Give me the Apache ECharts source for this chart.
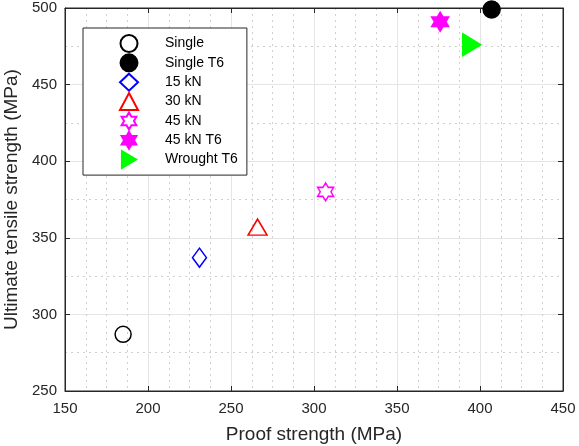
<!DOCTYPE html>
<html><head><meta charset="utf-8">
<script src="https://cdn.jsdelivr.net/npm/echarts@6/dist/echarts.min.js"></script>
<style>html,body{margin:0;padding:0;background:#fff}#c{width:579px;height:446px}</style>
</head><body><div id="c"></div>
<script>
const seriesNames = ['Single','Single T6','15 kN','30 kN','45 kN','45 kN T6','Wrought T6'];
const proofStrength = [185, 407, 231, 266, 307, 376, 395];
const ultimateStrength = [287, 499, 337, 357, 380, 491, 476];
const xTicks = [150,200,250,300,350,400,450];
const yTicks = [250,300,350,400,450,500];

const hex = 'path://M100 0 L128.87 50 L186.6 50 L157.7 100 L186.6 150 L128.87 150 L100 200 L71.13 150 L13.4 150 L42.3 100 L13.4 50 L71.13 50 Z';
const rightTri = 'path://M0 0 L100 60 L0 120 Z';
const styles = [
  {symbol:'circle', size:16, fill:'rgba(0,0,0,0)', stroke:'#000'},
  {symbol:'circle', size:17, fill:'#000', stroke:'#000'},
  {symbol:'diamond', size:[14,19], fill:'rgba(0,0,0,0)', stroke:'#0000ff'},
  {symbol:'triangle', size:[19,16], fill:'rgba(0,0,0,0)', stroke:'#ff0000'},
  {symbol:hex, size:[16,18], fill:'rgba(0,0,0,0)', stroke:'#ff00ff'},
  {symbol:hex, size:[17,19], fill:'#ff00ff', stroke:'#ff00ff'},
  {symbol:rightTri, size:[18,22], fill:'#00ff00', stroke:'#00ff00'}
];
const font = 'Liberation Sans';
const series = seriesNames.map((n,i)=>({
  name:n, type:'scatter',
  data:[[proofStrength[i], ultimateStrength[i]]],
  symbol:styles[i].symbol, symbolSize:styles[i].size,
  itemStyle:{color:styles[i].fill, borderColor:styles[i].stroke, borderWidth:1.5, opacity:1},
  emphasis:{disabled:true}, z:5
}));
const axisCommon = {
  axisLine:{show:true, onZero:false, lineStyle:{color:'#262626', width:1}},
  axisTick:{show:true, inside:true, length:5, lineStyle:{color:'#262626'}},
  splitLine:{show:true, lineStyle:{color:'#e5e5e5', width:1}},
  minorSplitLine:{show:true, lineStyle:{color:'#d0d0d0', width:1, type:[2,4]}},
  axisLabel:{color:'#262626', fontFamily:font, fontSize:15},
  nameTextStyle:{color:'#262626', fontFamily:font, fontSize:19}
};
const chart = echarts.init(document.getElementById('c'), null, {renderer:'canvas'});
chart.setOption({
  animation:false,
  backgroundColor:'#fff',
  grid:{left:65, right:16, top:8, bottom:55, outerBoundsMode:'none', containLabel:false,
    show:true, borderColor:'#262626', borderWidth:1, backgroundColor:'transparent'},
  xAxis:[
    Object.assign({}, axisCommon, {type:'value', min:xTicks[0], max:xTicks[xTicks.length-1], interval:50,
      minorTick:{show:false, splitNumber:4},
      name:'Proof strength (MPa)', nameLocation:'middle', nameGap:34,
      axisLabel:Object.assign({}, axisCommon.axisLabel, {margin:10})}),
    {type:'value', position:'top', min:150, max:450, interval:50,
      axisLine:{show:true, lineStyle:{color:'#262626'}}, axisTick:{show:true, inside:true, length:5, lineStyle:{color:'#262626'}},
      axisLabel:{show:false}, splitLine:{show:false}}
  ],
  yAxis:[
    Object.assign({}, axisCommon, {type:'value', min:yTicks[0], max:yTicks[yTicks.length-1], interval:50,
      minorTick:{show:false, splitNumber:2},
      name:'Ultimate tensile strength (MPa)', nameLocation:'middle', nameGap:43,
      axisLabel:Object.assign({}, axisCommon.axisLabel, {margin:8})}),
    {type:'value', position:'right', min:250, max:500, interval:50,
      axisLine:{show:true, lineStyle:{color:'#262626'}}, axisTick:{show:true, inside:true, length:5, lineStyle:{color:'#262626'}},
      axisLabel:{show:false}, splitLine:{show:false}}
  ],
  legend:{
    orient:'vertical', left:83, top:28,
    padding:[6, 9, 6, 36],
    itemWidth:18, itemHeight:17, itemGap:0.35, symbolKeepAspect:true,
    backgroundColor:'#fff', borderColor:'#262626', borderWidth:1, borderRadius:0,
    textStyle:{color:'#000', fontFamily:font, fontSize:14, lineHeight:19, padding:[0,0,0,22]},
    data:seriesNames, selectedMode:false
  },
  series:series
});
</script></body></html>
